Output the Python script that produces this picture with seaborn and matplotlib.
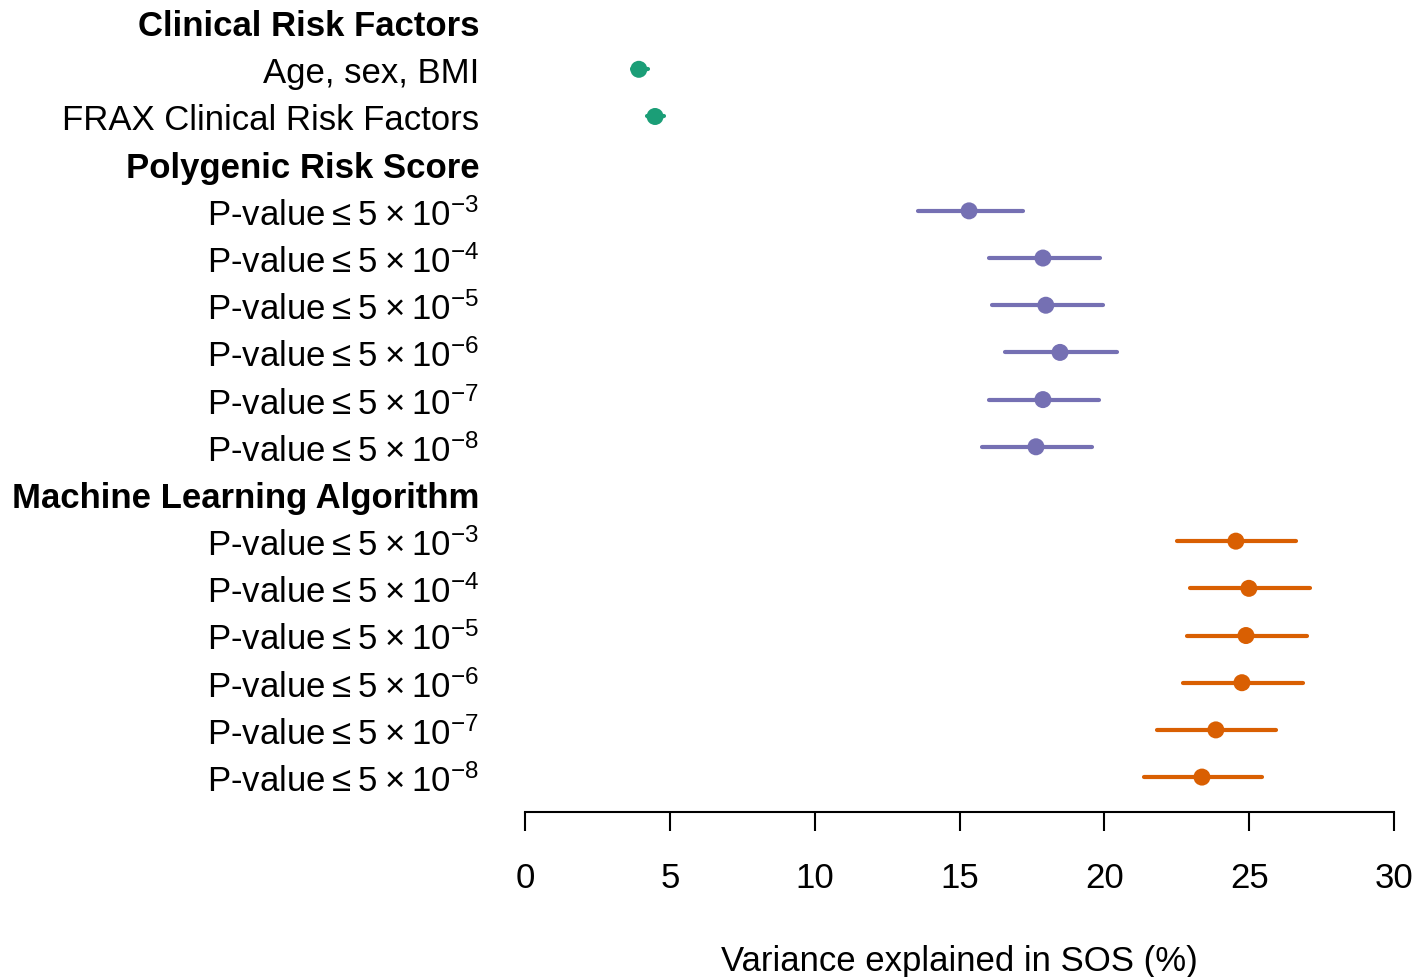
import matplotlib
matplotlib.use("Agg")
import matplotlib.pyplot as plt
import seaborn as sns
import pandas as pd

TS = "\u2009"  # thin space, the reference sets the P-value labels tightly

# rows from top to bottom
exponents = ["-3", "-4", "-5", "-6", "-7", "-8"]
pval_labels = [f"P-value{TS}≤{TS}5{TS}×{TS}$10^{{{e}}}$" for e in exponents]
labels = (["Clinical Risk Factors", "Age, sex, BMI", "FRAX Clinical Risk Factors",
           "Polygenic Risk Score"] + pval_labels +
          ["Machine Learning Algorithm"] + pval_labels)
headings = [0, 3, 10]

groups = ["CRF", "CRF",
          "PRS", "PRS", "PRS", "PRS", "PRS", "PRS",
          "ML", "ML", "ML", "ML", "ML", "ML"]
rows = [1, 2, 4, 5, 6, 7, 8, 9, 11, 12, 13, 14, 15, 16]
estimate = [3.93, 4.49,
            15.33, 17.88, 17.98, 18.47, 17.88, 17.64,
            24.54, 24.99, 24.89, 24.75, 23.85, 23.37]
lower = [3.70, 4.20,
         13.57, 16.02, 16.12, 16.57, 16.02, 15.78,
         22.51, 22.95, 22.85, 22.71, 21.82, 21.37]
upper = [4.25, 4.80,
         17.19, 19.85, 19.95, 20.43, 19.81, 19.57,
         26.61, 27.10, 26.99, 26.86, 25.92, 25.44]

palette = {"CRF": "#1b9e77", "PRS": "#7570b3", "ML": "#d95f02"}

df = pd.DataFrame({"group": groups, "row": rows, "est": estimate,
                   "lo": lower, "hi": upper})

sns.set_style("white")
plt.rcParams["font.family"] = ["Liberation Sans", "DejaVu Sans"]
plt.rcParams["mathtext.fontset"] = "custom"
plt.rcParams["mathtext.rm"] = "Liberation Sans"
plt.rcParams["mathtext.it"] = "Liberation Sans:italic"
plt.rcParams["mathtext.bf"] = "Liberation Sans:bold"
plt.rcParams["mathtext.default"] = "regular"
for k in ["text.color", "axes.labelcolor", "xtick.color", "ytick.color"]:
    plt.rcParams[k] = "black"

fig = plt.figure(figsize=(14.18, 9.78), dpi=100)
ax = fig.add_axes([525 / 1418, 1 - 813 / 978, (1394 - 525) / 1418, 813 / 978])

ax.hlines(df["row"], df["lo"], df["hi"],
          colors=[palette[g] for g in df["group"]], linewidth=3, capstyle="round")
sns.scatterplot(data=df, x="est", y="row", hue="group", palette=palette,
                s=150, edgecolor="none", legend=False, ax=ax, zorder=3)

ax.set_xlim(0, 30)
ax.set_ylim(16.74, -0.49)
ax.set_xticks(range(0, 31, 5))
ax.set_yticks(range(len(labels)))
ax.set_yticklabels(labels, fontsize=25)
for i, t in enumerate(ax.get_yticklabels()):
    if i in headings:
        t.set_fontweight("bold")

for s in ["top", "right", "left"]:
    ax.spines[s].set_visible(False)
ax.spines["bottom"].set_linewidth(1.5)
ax.spines["bottom"].set_color("black")
ax.tick_params(axis="y", length=0, pad=33)
ax.tick_params(axis="x", length=14, width=1.5, color="black",
               direction="out", bottom=True, pad=21, labelsize=25)
ax.set_xlabel("Variance explained in SOS (%)", fontsize=25, labelpad=36)
ax.set_ylabel("")

fig.savefig("out.png", dpi=100)
